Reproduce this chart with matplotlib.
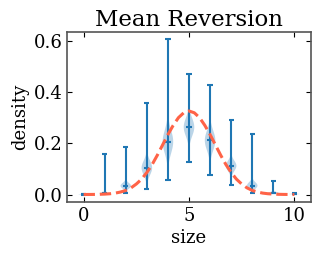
import numpy as np
import matplotlib.pyplot as plt

# violin summary per size
sizes = [0, 1, 2, 3, 4, 5, 6, 7, 8, 9, 10]
means = [0.001, 0.005, 0.034, 0.104, 0.206, 0.263, 0.211, 0.112, 0.035, 0.007, 0.002]
mins = [0.0, 0.004, 0.004, 0.023, 0.055, 0.125, 0.076, 0.037, 0.005, 0.004, 0.001]
maxs = [0.003, 0.160, 0.185, 0.359, 0.605, 0.470, 0.427, 0.291, 0.236, 0.053, 0.004]
spreads = [0.001, 0.003, 0.011, 0.028, 0.045, 0.035, 0.038, 0.020, 0.013, 0.003, 0.001]

# reference density curve
curve_x = [i * 0.25 for i in range(41)]
curve_y = [0.0001, 0.0002, 0.0004, 0.0008, 0.0016, 0.0030, 0.0055, 0.0097, 0.016, 0.026,
           0.041, 0.060, 0.086, 0.117, 0.154, 0.194, 0.234, 0.270, 0.300, 0.319,
           0.326,
           0.319, 0.300, 0.270, 0.234, 0.194, 0.154, 0.117, 0.086, 0.060, 0.041,
           0.026, 0.016, 0.0097, 0.0055, 0.0030, 0.0016, 0.0008, 0.0004, 0.0002, 0.0001]

plt.rcParams['font.family'] = 'DejaVu Serif'

fig = plt.figure(figsize=(3.19, 2.58), dpi=100)
ax = fig.add_axes([0.211, 0.216, 0.763, 0.661])

# build violin stats from the summary values
vpstats = []
for m, lo, hi, s in zip(means, mins, maxs, spreads):
    coords = np.linspace(lo, hi, 200)
    vals = np.exp(-0.5 * ((coords - m) / s) ** 2) + 1e-9
    vpstats.append({'coords': coords, 'vals': vals, 'mean': m, 'median': m,
                    'min': lo, 'max': hi})

ax.violin(vpstats, positions=sizes, widths=0.5, showmeans=True, showextrema=True)
ax.plot(curve_x, curve_y, '--', color='tomato', lw=2.2)

ax.set_title('Mean Reversion', fontsize=16.5, pad=4)
ax.set_xlabel('size', fontsize=13, labelpad=3)
ax.set_ylabel('density', fontsize=13, labelpad=3)
ax.set_xticks([0, 5, 10])
ax.set_yticks([0.0, 0.2, 0.4, 0.6])
ax.tick_params(direction='in', top=True, right=True, labelsize=13, length=3.5)
for sp in ax.spines.values():
    sp.set_color('#555555')
    sp.set_linewidth(1.2)

plt.savefig('out.png', dpi=100)
